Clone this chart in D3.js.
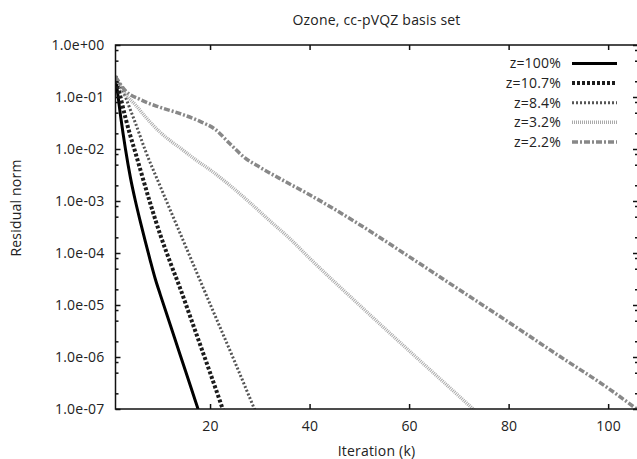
<!DOCTYPE html>
<html>
<head>
<meta charset="utf-8">
<script src="https://cdn.jsdelivr.net/npm/d3@7"></script>
<style>
  body { margin: 0; background: #fff; }
  svg text { font-family: "Open Sans", sans-serif; font-size: 14px; letter-spacing: 0.2px; fill: #222; }
</style>
</head>
<body>
<svg width="637" height="459"></svg>
<script>
// iteration (k) and log10 of residual norm
const series = ["z=100%", "z=10.7%", "z=8.4%", "z=3.2%", "z=2.2%"];

const z100 = [[1,-0.6],[2,-1.35],[3,-2.0],[4,-2.55],[5,-3.0],[6,-3.4],[7,-3.78],[8,-4.15],[9,-4.5],[10,-4.8],[12,-5.38],[14,-5.96],[16,-6.54],[18,-7.12]];
const z107 = [[1,-0.6],[2,-1.0],[3,-1.4],[4,-1.75],[5,-2.07],[6,-2.4],[8,-3.05],[10,-3.65],[12,-4.18],[14,-4.68],[16,-5.22],[18,-5.76],[20,-6.3],[22,-6.85],[23,-7.13]];
const z84 = [[1,-0.6],[2,-0.78],[3,-1.0],[4,-1.25],[5,-1.5],[7,-2.03],[10,-2.72],[15,-3.85],[20,-4.98],[25,-6.1],[29,-7.02]];
const z32 = [[1,-0.62],[3,-0.95],[5,-1.15],[7,-1.38],[10,-1.68],[12,-1.84],[14,-1.98],[17,-2.2],[20,-2.4],[24,-2.7],[28,-3.03],[32,-3.38],[36,-3.72],[40,-4.1],[50,-5.0],[60,-5.88],[70,-6.75],[74,-7.1]];
const z22 = [[1,-0.61],[3,-0.88],[6,-1.05],[10,-1.2],[14,-1.32],[18,-1.47],[21,-1.62],[24,-1.9],[27,-2.17],[30,-2.35],[35,-2.62],[40,-2.88],[50,-3.45],[60,-4.07],[70,-4.7],[80,-5.33],[90,-5.97],[100,-6.6],[106,-7.02]];

const xTicks = [20, 40, 60, 80, 100];
const yTicks = [1e0, 1e-1, 1e-2, 1e-3, 1e-4, 1e-5, 1e-6, 1e-7];

const lineData = [z100, z107, z84, z32, z22];
const styles = [
  {stroke: "#000",    width: 3,   dash: null},
  {stroke: "#1c1c1c", width: 4,   dash: "3,2"},
  {stroke: "#555",    width: 3,   dash: "2,2"},
  {stroke: "#aaa",    width: 3.5, dash: "1,1"},
  {stroke: "#888",    width: 3.5, dash: "6,2,2,2"}
];

const svg = d3.select("svg");
const mLeft = 115.5, mRight = 638, mTop = 45, mBottom = 409;

const x = d3.scaleLinear().domain([1, 106]).range([mLeft, mRight]);
const y = d3.scaleLog().domain([1e-7, 1]).range([mBottom, mTop]);

// clip the curves to the plot frame
svg.append("clipPath").attr("id", "plot")
  .append("rect")
    .attr("x", mLeft).attr("y", mTop)
    .attr("width", mRight - mLeft).attr("height", mBottom - mTop);

const line = d3.line()
  .curve(d3.curveMonotoneX)
  .x(d => x(d[0]))
  .y(d => y(Math.pow(10, d[1])));

svg.append("g").attr("clip-path", "url(#plot)")
  .selectAll("path")
  .data(lineData)
  .enter().append("path")
    .attr("d", line)
    .attr("fill", "none")
    .attr("stroke", (d, i) => styles[i].stroke)
    .attr("stroke-width", (d, i) => styles[i].width)
    .attr("stroke-dasharray", (d, i) => styles[i].dash);

// minor ticks at 2, 5 and 8 of each decade
const minor = [];
yTicks.slice(1).forEach(t => [2, 5, 8].forEach(m => minor.push(t * m)));

const fmt = d => d3.format(".1e")(d).replace(/e([+-])(\d)$/, "e$10$2");

// left axis
svg.append("g")
  .attr("transform", `translate(${mLeft},0)`)
  .call(d3.axisLeft(y).tickValues(yTicks).tickFormat(fmt).tickSize(-5).tickPadding(11))
  .call(g => g.select(".domain").remove());
svg.append("g")
  .attr("transform", `translate(${mLeft},0)`)
  .call(d3.axisLeft(y).tickValues(minor).tickFormat("").tickSize(-3))
  .call(g => g.select(".domain").remove());

// right axis (ticks only)
svg.append("g")
  .attr("transform", `translate(${mRight},0)`)
  .call(d3.axisRight(y).tickValues(yTicks).tickFormat("").tickSize(-5))
  .call(g => g.select(".domain").remove());
svg.append("g")
  .attr("transform", `translate(${mRight},0)`)
  .call(d3.axisRight(y).tickValues(minor).tickFormat("").tickSize(-3))
  .call(g => g.select(".domain").remove());

// bottom and top axes
svg.append("g")
  .attr("transform", `translate(0,${mBottom})`)
  .call(d3.axisBottom(x).tickValues(xTicks).tickSize(-5).tickPadding(12))
  .call(g => g.select(".domain").remove());
svg.append("g")
  .attr("transform", `translate(0,${mTop})`)
  .call(d3.axisTop(x).tickValues(xTicks).tickFormat("").tickSize(-5))
  .call(g => g.select(".domain").remove());

svg.selectAll(".tick line").attr("stroke", "#111").attr("stroke-width", 1.5);
svg.selectAll(".tick text").style("font-size", "14px").attr("fill", "#222");

// frame
svg.append("rect")
  .attr("x", mLeft).attr("y", mTop)
  .attr("width", mRight - mLeft).attr("height", mBottom - mTop)
  .attr("fill", "none").attr("stroke", "#111").attr("stroke-width", 1.5);

// titles
svg.append("text")
  .attr("x", 376.5).attr("y", 25)
  .attr("text-anchor", "middle")
  .text("Ozone, cc-pVQZ basis set");

svg.append("text")
  .attr("x", 376.5).attr("y", 456)
  .attr("text-anchor", "middle")
  .text("Iteration (k)");

svg.append("text")
  .attr("transform", "translate(21,208) rotate(-90)")
  .attr("text-anchor", "middle")
  .text("Residual norm");

// legend
const legend = svg.append("g")
  .selectAll("g")
  .data(series)
  .enter().append("g")
    .attr("transform", (d, i) => `translate(0,${63.5 + i * 19.6})`);

legend.append("text")
  .attr("x", 561).attr("dy", "0.35em")
  .attr("text-anchor", "end")
  .text(d => d);

legend.append("line")
  .attr("x1", 572).attr("x2", 617)
  .attr("stroke", (d, i) => styles[i].stroke)
  .attr("stroke-width", (d, i) => styles[i].width)
  .attr("stroke-dasharray", (d, i) => styles[i].dash);
</script>
</body>
</html>
